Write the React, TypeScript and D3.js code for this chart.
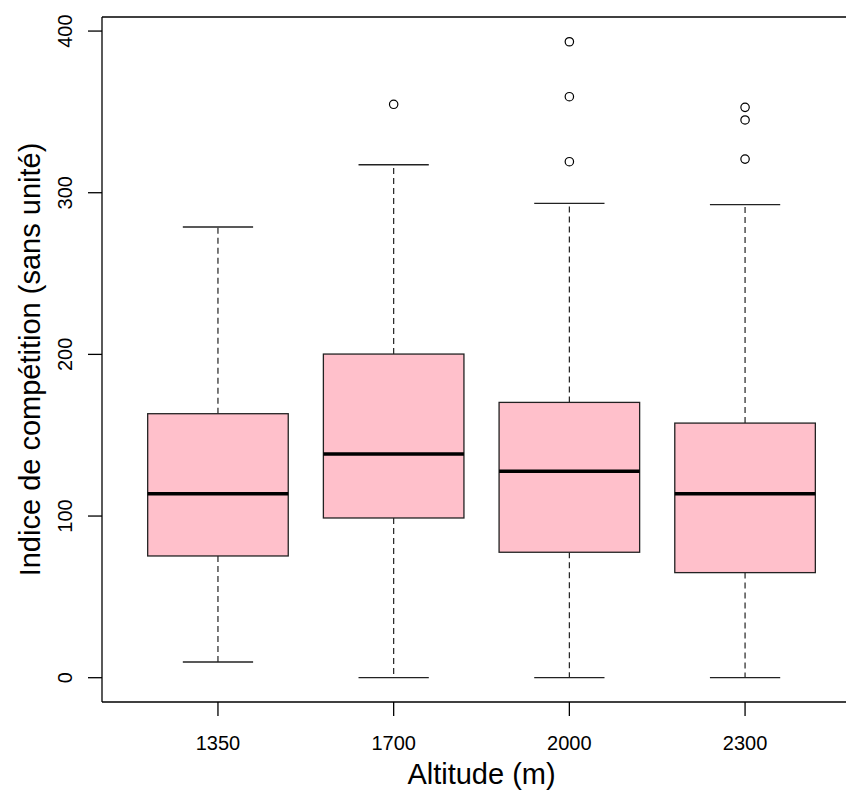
import React from "react";
import * as d3 from "d3";

const categories = ["1350", "1700", "2000", "2300"];
const lowerWhisker = [9.7, 0, 0, 0];
const q1 = [75.3, 98.8, 77.6, 65.0];
const median = [113.8, 138.4, 127.7, 113.8];
const q3 = [163.3, 200.2, 170.3, 157.5];
const upperWhisker = [278.8, 317.3, 293.4, 292.6];
const outliers: number[][] = [[], [354.7], [319.2, 359.4, 393.4], [320.8, 345.0, 352.8]];
const yTicks = [0, 100, 200, 300, 400];

const W = 846;
const H = 797;
const left = 102;
const top = 17;
const bottom = 702;
const font = "'Liberation Sans', Arial, sans-serif";

export default function App() {
  const x = d3.scaleLinear().domain([0.34, 4.66]).range([left, left + 4.32 * 175.7]);
  const y = d3.scaleLinear().domain([-15.03, 408.7]).range([bottom, top]);
  const boxHalf = 0.4 * (x(2) - x(1));
  const capHalf = boxHalf / 2;

  return (
    <svg
      width={W}
      height={H}
      style={{ position: "absolute", left: 0, top: 0, background: "#fff" }}
      fontFamily={font}
    >
      <rect x={0} y={0} width={W} height={H} fill="#fff" />
      {/* plot frame (cropped on the right) */}
      <line x1={left} x2={W + 20} y1={top} y2={top} stroke="#000" strokeWidth={1.3} />
      <line x1={left} x2={W + 20} y1={bottom} y2={bottom} stroke="#000" strokeWidth={1.3} />
      <line x1={left} x2={left} y1={top} y2={bottom} stroke="#000" strokeWidth={1.3} />

      {categories.map((c, i) => {
        const cx = x(i + 1);
        return (
          <g key={c}>
            <line x1={cx} x2={cx} y1={y(q3[i])} y2={y(upperWhisker[i])} stroke="#222" strokeWidth={1.2} strokeDasharray="6,4" />
            <line x1={cx} x2={cx} y1={y(q1[i])} y2={y(lowerWhisker[i])} stroke="#222" strokeWidth={1.2} strokeDasharray="6,4" />
            <line x1={cx - capHalf} x2={cx + capHalf} y1={y(upperWhisker[i])} y2={y(upperWhisker[i])} stroke="#222" strokeWidth={1.3} />
            <line x1={cx - capHalf} x2={cx + capHalf} y1={y(lowerWhisker[i])} y2={y(lowerWhisker[i])} stroke="#222" strokeWidth={1.3} />
            <rect
              x={cx - boxHalf}
              y={y(q3[i])}
              width={2 * boxHalf}
              height={y(q1[i]) - y(q3[i])}
              fill="#FFC0CB"
              stroke="#222"
              strokeWidth={1.3}
            />
            <line x1={cx - boxHalf} x2={cx + boxHalf} y1={y(median[i])} y2={y(median[i])} stroke="#000" strokeWidth={3.5} />
            {outliers[i].map((v, k) => (
              <circle key={k} cx={cx} cy={y(v)} r={4.2} fill="none" stroke="#000" strokeWidth={1.2} />
            ))}
            <line x1={cx} x2={cx} y1={bottom} y2={bottom + 14} stroke="#000" strokeWidth={1.3} />
            <text x={cx} y={750} textAnchor="middle" fontSize={20} fill="#000">
              {c}
            </text>
          </g>
        );
      })}

      {yTicks.map((t) => (
        <g key={t}>
          <line x1={left - 14} x2={left} y1={y(t)} y2={y(t)} stroke="#000" strokeWidth={1.3} />
          <text
            transform={`translate(72,${y(t)}) rotate(-90)`}
            textAnchor="middle"
            fontSize={20}
            fill="#000"
          >
            {t}
          </text>
        </g>
      ))}

      <text x={x(2.5)} y={784} textAnchor="middle" fontSize={29} fill="#000">
        Altitude (m)
      </text>
      <text
        transform={`translate(39.5,${(top + bottom) / 2}) rotate(-90)`}
        textAnchor="middle"
        fontSize={29}
        fill="#000"
      >
        Indice de compétition (sans unité)
      </text>
    </svg>
  );
}
